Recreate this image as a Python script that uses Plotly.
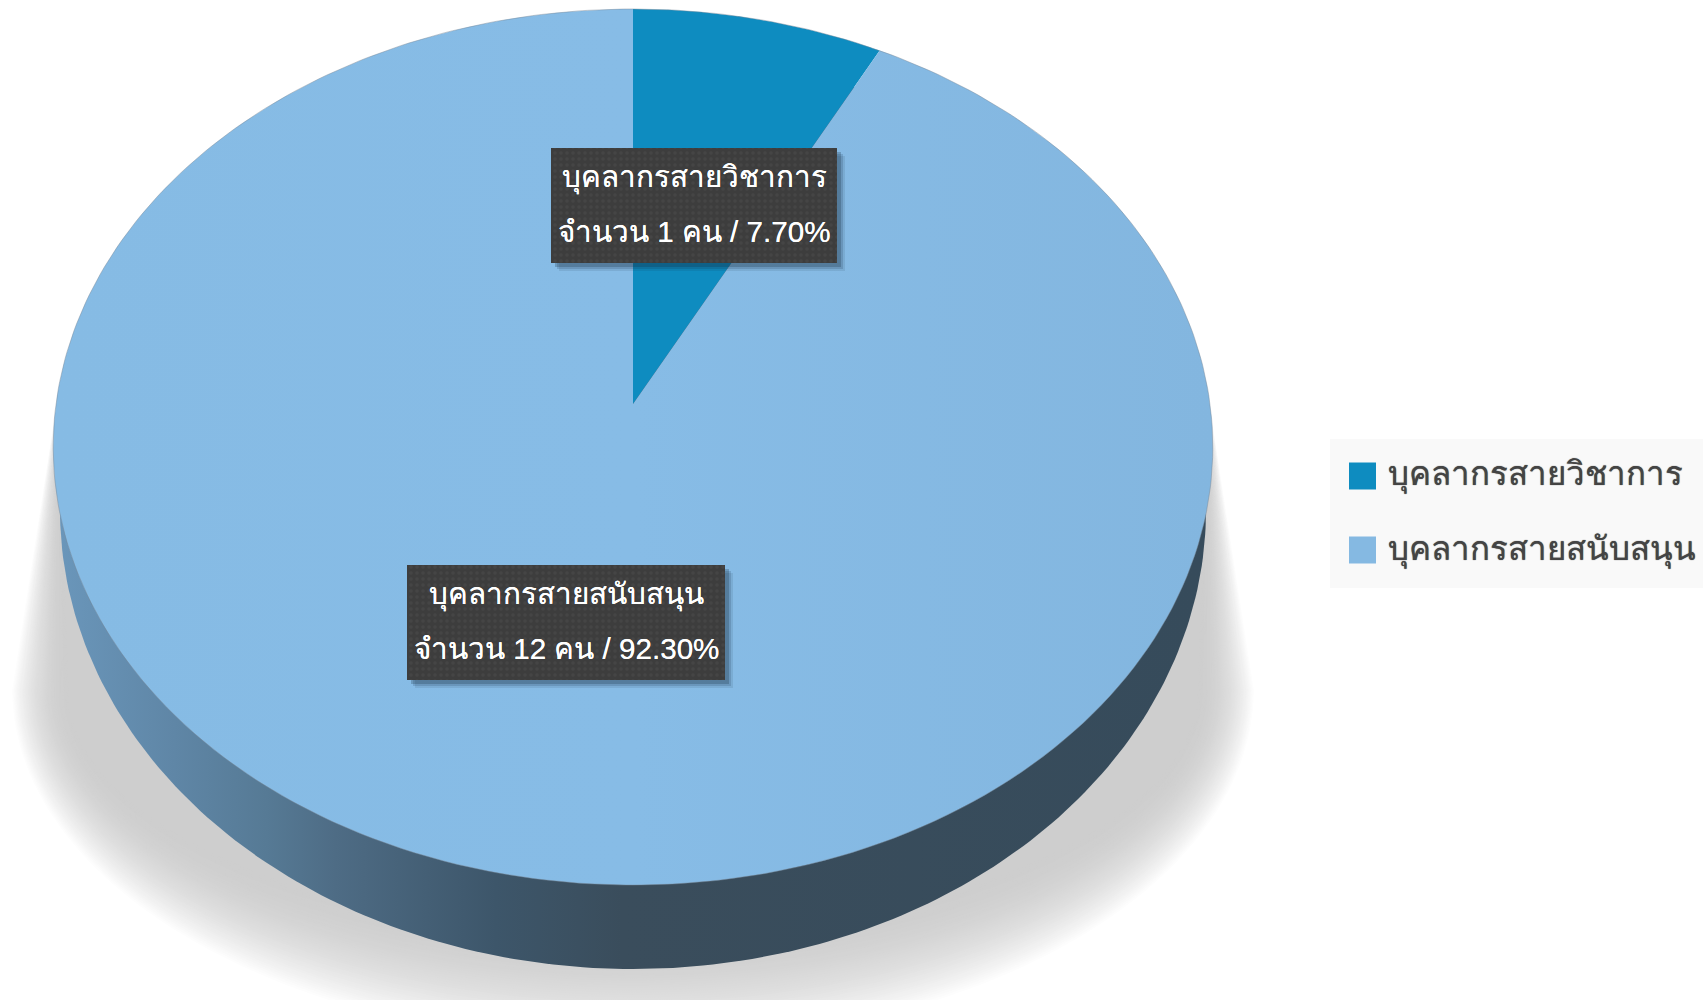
import numpy as np
import plotly.graph_objects as go

# ---------- data ----------
categories = ["บุคลากรสายวิชาการ", "บุคลากรสายสนับสนุน"]
counts = [1, 12]
percents = [7.70, 92.30]
colors = ["#0e8cc0", "#85b9e2"]

# ---------- geometry of the tilted pie (pixel-valued axes) ----------
W, H = 1703, 1000
CX, CY, PX, PY, K = 633.0, 404.0, 577.0, 433.8, 0.0982


def project(t, r=1.0):
    X, Y = r * np.sin(t), r * np.cos(t)
    w = 1 + K * Y
    return CX + PX * X / w, CY - PY * Y / w


def ellipse(cx, cy, a, b, t):
    return cx + a * np.sin(t), cy + b * np.cos(t)


fig = go.Figure()

# soft shadow: opaque nested fans, outermost first
n_layers = 48
for i in range(n_layers):
    f = i / (n_layers - 1)
    a = 622 - 57 * f
    b = 358 - 113 * f
    s = 1 - (1 - f) ** 2
    v = int(round(255 - (255 - 206) * s))
    t = np.linspace(-np.pi / 2, np.pi / 2, 120)
    ex, ey = ellipse(633, 690, a, b, t)
    xs = np.concatenate([[58], ex, [1208]])
    ys = np.concatenate([[395], ey, [395]])
    fig.add_trace(go.Scatter(x=xs, y=ys, mode="lines", fill="toself",
                             fillcolor=f"rgb({v},{v},{v})", line=dict(width=0),
                             showlegend=False, hoverinfo="skip"))

# side wall
t = np.linspace(0, 2 * np.pi, 361)
wx, wy = ellipse(633, 510, 573, 459, t)
fig.add_trace(go.Scatter(
    x=wx, y=wy, mode="lines", fill="toself", line=dict(width=0), showlegend=False, hoverinfo="skip",
    fillgradient=dict(type="horizontal", colorscale=[
        [0, "#6a96ba"], [0.1, "#5f86a6"], [0.18, "#567a95"], [0.24, "#4e6c85"],
        [0.32, "#445f75"], [0.38, "#3d566a"], [0.49, "#3a4d5c"], [1, "#364b5b"]])))

# slices
total = sum(counts)
start = 0.0
for name, c, col in zip(categories, counts, colors):
    sweep = 2 * np.pi * c / total
    t = np.linspace(start, start + sweep, 240)
    rx, ry = project(t)
    ax, ay = project(np.array([0.0]), 0.0)
    style = dict(fillcolor=col)
    if c == max(counts):
        style = dict(fillgradient=dict(type="horizontal", colorscale=[
            [0, "#86bbe4"], [0.5, "#87bce6"], [1, "#83b6df"]]))
    fig.add_trace(go.Scatter(x=np.concatenate([ax, rx, ax]), y=np.concatenate([ay, ry, ay]),
                             mode="lines", fill="toself", line=dict(width=0),
                             name=name, showlegend=False, hoverinfo="name", **style))
    start += sweep

# rim
t = np.linspace(0, 2 * np.pi, 361)
rx, ry = project(t)
fig.add_trace(go.Scatter(x=rx, y=ry, mode="lines", line=dict(width=1, color="rgba(120,135,150,0.45)"),
                         showlegend=False, hoverinfo="skip"))

# label boxes
boxes = [(551, 837, 148, 263), (407, 725, 565, 680)]
annotations = []
for (x0, x1, y0, y1), name, c, p in zip(boxes, categories, counts, percents):
    for d, alpha in ((8, 0.1), (6, 0.16), (4, 0.24)):
        fig.add_trace(go.Scatter(x=[x0 + d, x1 + d, x1 + d, x0 + d, x0 + d],
                                 y=[y0 + d, y0 + d, y1 + d, y1 + d, y0 + d],
                                 mode="lines", fill="toself", fillcolor=f"rgba(20,40,60,{alpha})",
                                 line=dict(width=0), showlegend=False, hoverinfo="skip"))
    fig.add_trace(go.Scatter(x=[x0, x1, x1, x0, x0], y=[y0, y0, y1, y1, y0], mode="lines", fill="toself",
                             line=dict(width=0), showlegend=False, hoverinfo="skip",
                             fillpattern=dict(shape=".", bgcolor="#3d3d3d", fgcolor="#4d4d4d",
                                              size=6, solidity=0.25)))
    mid = (x0 + x1) / 2
    annotations.append(dict(x=mid, y=y0 + 29, text=name, showarrow=False,
                            font=dict(size=29.6, color="#ffffff", shadow="0 0 0.6px #ffffff")))
    annotations.append(dict(x=mid, y=y0 + 83, text=f"จำนวน {c} คน / {p:.2f}%", showarrow=False,
                            font=dict(size=29.6, color="#ffffff", shadow="0 0 0.6px #ffffff")))

# legend (background panel, swatches, names)
fig.add_trace(go.Scatter(x=[1330, 1703, 1703, 1330, 1330], y=[439, 439, 588, 588, 439], mode="lines",
                         fill="toself", fillcolor="#f9f9f9", line=dict(width=0),
                         showlegend=False, hoverinfo="skip"))
fig.add_trace(go.Scatter(x=[1362.5, 1362.5], y=[476, 550], mode="markers",
                         marker=dict(symbol="square", size=27, color=colors, line=dict(width=0)),
                         showlegend=False, hoverinfo="skip"))
for name, yy in zip(categories, (474, 549)):
    annotations.append(dict(x=1386, y=yy, text=name, showarrow=False, xanchor="left",
                            font=dict(size=33, color="#444444", shadow="0 0 1px #444444")))

fig.update_layout(
    width=W, height=H, margin=dict(l=0, r=0, t=0, b=0), paper_bgcolor="white", plot_bgcolor="white",
    font=dict(family="Liberation Sans, Arial, Noto Sans, sans-serif"),
    xaxis=dict(range=[0, W], visible=False, fixedrange=True),
    yaxis=dict(range=[H, 0], visible=False, fixedrange=True),
    showlegend=False, annotations=annotations)

fig.write_html("out.html", config=dict(displayModeBar=False),
               post_script="document.body.style.margin='0';document.documentElement.style.overflow='hidden';")
